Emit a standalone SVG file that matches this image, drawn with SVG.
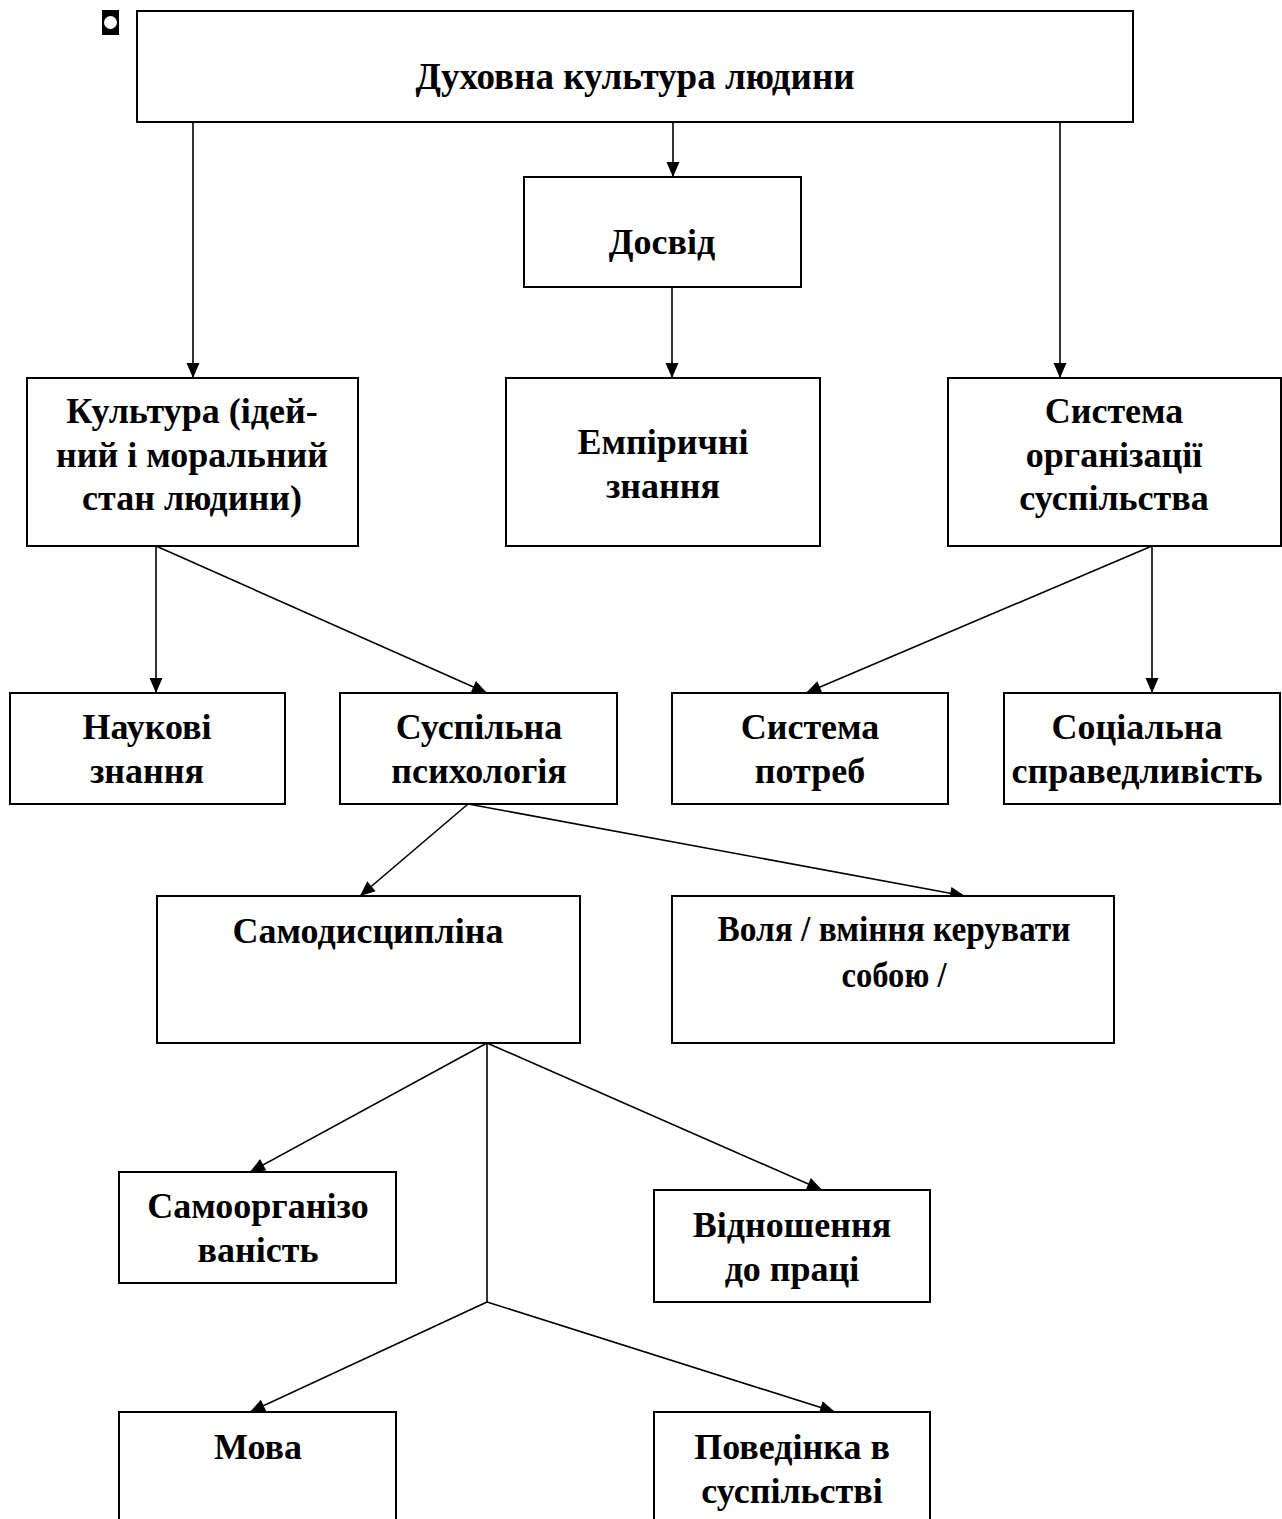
<svg xmlns="http://www.w3.org/2000/svg" width="1282" height="1519" viewBox="0 0 1282 1519">
<style>
.box{fill:#fff;stroke:#000;stroke-width:2}
.t{font-family:"Liberation Serif","Times New Roman",serif;font-weight:bold;font-size:36px;text-anchor:middle;fill:#000}
.c{fill:none;stroke:#000;stroke-width:1.6}
</style>
<defs>
<marker id="a" viewBox="0 0 15 13" refX="15" refY="6.5" markerWidth="15" markerHeight="13" markerUnits="userSpaceOnUse" orient="auto" style="overflow:visible">
<path d="M0,0 L15,6.5 L0,13 Z" fill="#000"/>
</marker>
</defs>
<rect width="1282" height="1519" fill="#fff"/>
<g id="bullet"><rect x="102" y="10" width="17" height="25" fill="#000"/><circle cx="110.5" cy="22.5" r="6.5" fill="#fff"/></g>
<g id="connectors">
<line class="c" x1="193" y1="122" x2="193" y2="378" marker-end="url(#a)"/>
<line class="c" x1="673" y1="122" x2="673" y2="177" marker-end="url(#a)"/>
<line class="c" x1="1060" y1="122" x2="1060" y2="378" marker-end="url(#a)"/>
<line class="c" x1="672" y1="287" x2="672" y2="378" marker-end="url(#a)"/>
<line class="c" x1="156" y1="546" x2="156" y2="693" marker-end="url(#a)"/>
<line class="c" x1="156" y1="546" x2="487" y2="693" marker-end="url(#a)"/>
<line class="c" x1="1152" y1="546" x2="806" y2="693" marker-end="url(#a)"/>
<line class="c" x1="1152" y1="546" x2="1152" y2="693" marker-end="url(#a)"/>
<line class="c" x1="468" y1="804" x2="360" y2="896" marker-end="url(#a)"/>
<line class="c" x1="468" y1="804" x2="965" y2="896" marker-end="url(#a)"/>
<line class="c" x1="487" y1="1043" x2="250" y2="1172" marker-end="url(#a)"/>
<line class="c" x1="487" y1="1043" x2="822" y2="1190" marker-end="url(#a)"/>
<polyline class="c" points="487,1043 487,1302"/>
<line class="c" x1="487" y1="1302" x2="250" y2="1412" marker-end="url(#a)"/>
<line class="c" x1="487" y1="1302" x2="835" y2="1412" marker-end="url(#a)"/>
</g>
<g id="n1"><rect class="box" x="137" y="11" width="996" height="111"/><text class="t" x="635" y="89" style="font-size:37px">Духовна культура людини</text></g>
<g id="n2"><rect class="box" x="524" y="177" width="277" height="110"/><text class="t" x="662" y="254">Досвід</text></g>
<g id="n3"><rect class="box" x="27" y="378" width="331" height="168"/><text class="t" x="192" y="423">Культура (ідей-</text><text class="t" x="192" y="467">ний і моральний</text><text class="t" x="192" y="510">стан людини)</text></g>
<g id="n4"><rect class="box" x="506" y="378" width="314" height="168"/><text class="t" x="663" y="454">Емпіричні</text><text class="t" x="663" y="498">знання</text></g>
<g id="n5"><rect class="box" x="948" y="378" width="333" height="168"/><text class="t" x="1114" y="423">Система</text><text class="t" x="1114" y="467">організації</text><text class="t" x="1114" y="510">суспільства</text></g>
<g id="n6"><rect class="box" x="10" y="693" width="275" height="111"/><text class="t" x="147" y="739">Наукові</text><text class="t" x="147" y="783">знання</text></g>
<g id="n7"><rect class="box" x="340" y="693" width="277" height="111"/><text class="t" x="479" y="739">Суспільна</text><text class="t" x="479" y="783">психологія</text></g>
<g id="n8"><rect class="box" x="672" y="693" width="276" height="111"/><text class="t" x="810" y="739">Система</text><text class="t" x="810" y="783">потреб</text></g>
<g id="n9"><rect class="box" x="1004" y="693" width="276" height="111"/><text class="t" x="1137" y="739">Соціальна</text><text class="t" x="1137" y="783">справедливість</text></g>
<g id="n10"><rect class="box" x="157" y="896" width="423" height="147"/><text class="t" x="368" y="943">Самодисципліна</text></g>
<g id="n11"><rect class="box" x="672" y="896" width="442" height="147"/><text class="t" x="894" y="941" textLength="353" lengthAdjust="spacingAndGlyphs">Воля / вміння керувати</text><text class="t" x="894" y="987" textLength="105" lengthAdjust="spacingAndGlyphs">собою /</text></g>
<g id="n12"><rect class="box" x="119" y="1172" width="277" height="111"/><text class="t" x="258" y="1218">Самоорганізо</text><text class="t" x="258" y="1262">ваність</text></g>
<g id="n13"><rect class="box" x="654" y="1190" width="276" height="112"/><text class="t" x="792" y="1237">Відношення</text><text class="t" x="792" y="1281">до праці</text></g>
<g id="n14"><rect class="box" x="119" y="1412" width="277" height="130"/><text class="t" x="258" y="1459">Мова</text></g>
<g id="n15"><rect class="box" x="654" y="1412" width="276" height="130"/><text class="t" x="792" y="1459">Поведінка в</text><text class="t" x="792" y="1503">суспільстві</text></g>
</svg>
